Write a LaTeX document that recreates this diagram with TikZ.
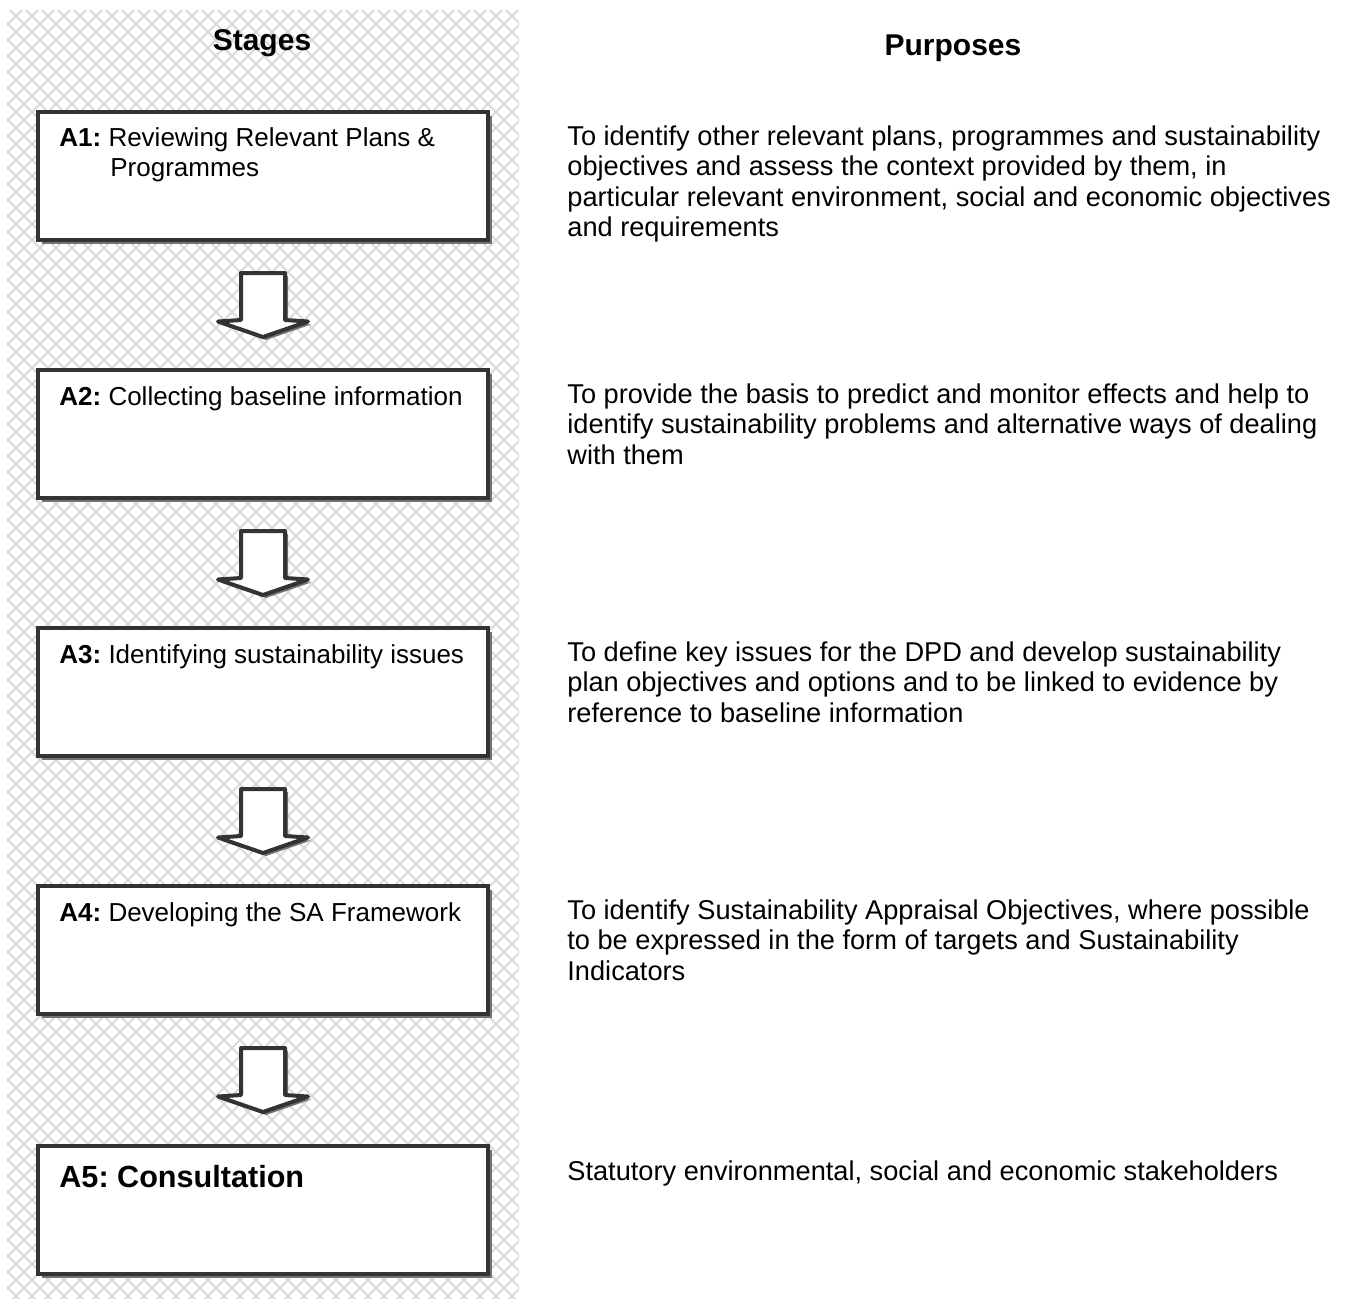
\documentclass[tikz,border=0pt]{standalone}
\usepackage{fontspec}
\setmainfont{Liberation Sans}
\usetikzlibrary{shadows,calc}
\frenchspacing
\begin{document}
\frenchspacing
\begin{tikzpicture}[x=0.5pt,y=-0.5pt,
  hatch/.style={draw=black!15, line width=0.9pt},
  stagebox/.style={draw=black!80, line width=2pt, fill=white,
    minimum width=225pt, minimum height=64pt, inner sep=0pt,
    general shadow={fill=black!55, shadow xshift=2pt, shadow yshift=-2pt}},
  boxtext/.style={anchor=north west, inner sep=0pt, align=left,
    font=\fontsize{13}{15.25}\selectfont},
  purpose/.style={anchor=north west, inner sep=0pt, align=left,
    font=\fontsize{13.6}{15.25}\selectfont},
  title/.style={anchor=base, inner sep=0pt, font=\fontsize{15}{18}\selectfont\bfseries},
  arrowbody/.style={draw=black!80, line width=2pt, fill=white, line join=round},
  arrowshadow/.style={fill=black!55, draw=none}
]
\useasboundingbox (0,0) rectangle (1346,1298);

% cross-hatched background of the stages column
\begin{scope}
  \clip (7,10) rectangle (519,1298);
  \foreach \c in {-1296,-1280,...,528} {\draw[hatch] (\c,0) -- ++(1320,1320);}
  \foreach \c in {0,16,...,1840} {\draw[hatch] (\c,0) -- ++(-1320,1320);}
\end{scope}

% titles
\node[title] (tstages) at (262,50) {Stages};
\node[title] (tpurposes) at (953,55) {Purposes};

% stage boxes
\node[stagebox] (a1) at (263,176) {};
\node[stagebox] (a2) at (263,434) {};
\node[stagebox] (a3) at (263,692) {};
\node[stagebox] (a4) at (263,950) {};
\node[stagebox] (a5) at (263,1210) {};

% box texts
\node[boxtext] (a1t) at (59,127) {\textbf{A1:} Reviewing Relevant Plans \&\\\hspace*{25.5pt}Programmes};
\node[boxtext] (a2t) at (59,386) {\textbf{A2:} Collecting baseline information};
\node[boxtext] (a3t) at (59,644) {\textbf{A3:} Identifying sustainability issues};
\node[boxtext] (a4t) at (59,902) {\textbf{A4:} Developing the SA Framework};
\node[anchor=base west, inner sep=0pt, font=\fontsize{15.3}{18}\selectfont\bfseries] (a5t) at (59,1187) {A5: Consultation};

% purposes
\node[purpose] (p1) at (567,125) {To identify other relevant plans, programmes and sustainability\\objectives and assess the context provided by them, in\\particular relevant environment, social and economic objectives\\and requirements};
\node[purpose] (p2) at (567,383) {To provide the basis to predict and monitor effects and help to\\identify sustainability problems and alternative ways of dealing\\with them};
\node[purpose] (p3) at (567,641) {To define key issues for the DPD and develop sustainability\\plan objectives and options and to be linked to evidence by\\reference to baseline information};
\node[purpose] (p4) at (567,899) {To identify Sustainability Appraisal Objectives, where possible\\to be expressed in the form of targets and Sustainability\\Indicators};
\node[purpose] (p5) at (567,1160) {Statutory environmental, social and economic stakeholders};

% block arrows between the boxes
\foreach \s/\t in {a1/a2,a2/a3,a3/a4,a4/a5} {
  \coordinate (m\s) at ($(\s.south)!0.5!(\t.north)$);
  \begin{scope}[shift={(m\s)}]
    \fill[arrowshadow] (-19,-29) -- (25,-29) -- (25,18) -- (48,19.5) -- (3,35) -- (-42,19.5) -- (-19,18) -- cycle;
    \draw[arrowbody] (-22,-32) -- (22,-32) -- (22,15) -- (45,16.5) -- (0,32) -- (-45,16.5) -- (-22,15) -- cycle;
  \end{scope}
}
\end{tikzpicture}
\end{document}
